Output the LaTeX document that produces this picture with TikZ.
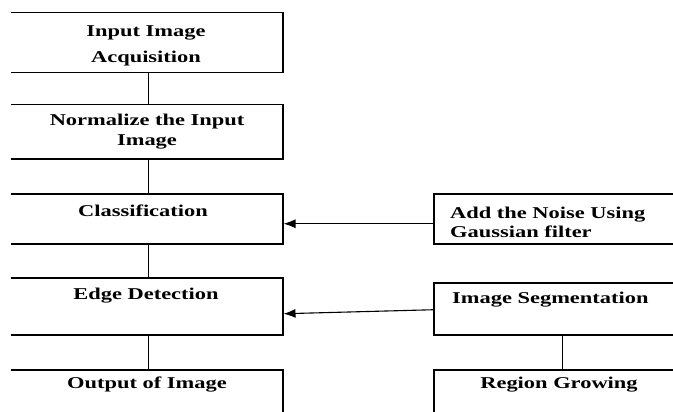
\documentclass[tikz,border=0pt]{standalone}
\usepackage{fontspec}
\setmainfont[FakeStretch=1.36]{Liberation Serif}
\usetikzlibrary{arrows.meta}
\begin{document}
\begin{tikzpicture}[x=1pt,y=-1pt,
  box/.style={draw=black,line width=1.5pt,inner sep=0pt,anchor=north west},
  lbl/.style={inner sep=0pt,font=\fontsize{16.5}{20}\selectfont\bfseries},
  conn/.style={draw=black,line width=1.2pt},
  arr/.style={draw=black,line width=1.1pt,-{Latex[length=12pt,width=9pt]}}]
\useasboundingbox (0,0) rectangle (673,412);
\fill[white] (0,0) rectangle (673,412);
\clip (11,-5) rectangle (673,420);
% left column
\node[box,minimum width=302pt,minimum height=60pt] (b1) at (-20,12) {};
\node[box,minimum width=302pt,minimum height=54pt] (b2) at (-20,104) {};
\node[box,minimum width=302pt,minimum height=50pt] (b3) at (-20,193) {};
\node[box,minimum width=302pt,minimum height=57pt] (b4) at (-20,277) {};
\node[box,minimum width=302pt,minimum height=60pt] (b5) at (-20,369) {};
% right column
\node[box,minimum width=300pt,minimum height=50pt] (bA) at (433,193) {};
\node[box,minimum width=300pt,minimum height=52pt] (bB) at (433,282) {};
\node[box,minimum width=252pt,minimum height=60pt] (bC) at (433,369) {};
% texts (base anchor of a multi-line node = last line)
\node[lbl,anchor=base,align=center] (t1) at (146,63) {Input Image\\[6pt]Acquisition};
\node[lbl,anchor=base,align=center] (t2) at (147,146) {Normalize the Input\\Image};
\node[lbl,anchor=base] (t3) at (143,216) {Classification};
\node[lbl,anchor=base] (t4) at (146,299) {Edge Detection};
\node[lbl,anchor=base] (t5) at (147,388) {Output of Image};
\node[lbl,anchor=base west,align=left] (tA) at (450,237) {Add the Noise Using\\[-1pt]Gaussian filter};
\node[lbl,anchor=base west] (tB) at (452,303) {Image Segmentation};
\node[lbl,anchor=base] (tC) at (559,388) {Region Growing};
% connectors
\draw[conn] ([xshift=17pt]b1.south) -- ([xshift=17pt]b2.north);
\draw[conn] ([xshift=17pt]b2.south) -- ([xshift=17pt]b3.north);
\draw[conn] ([xshift=17pt]b3.south) -- ([xshift=17pt]b4.north);
\draw[conn] ([xshift=17pt]b4.south) -- ([xshift=17pt]b5.north);
\draw[conn] ([xshift=-21pt]bB.south) -- ([xshift=3pt]bC.north);
\draw[arr] ([yshift=-5pt]bA.west) -- ([yshift=-5pt]b3.east);
\draw[arr] ([yshift=-1pt]bB.west) -- ([yshift=-7.5pt]b4.east);
\end{tikzpicture}
\end{document}
